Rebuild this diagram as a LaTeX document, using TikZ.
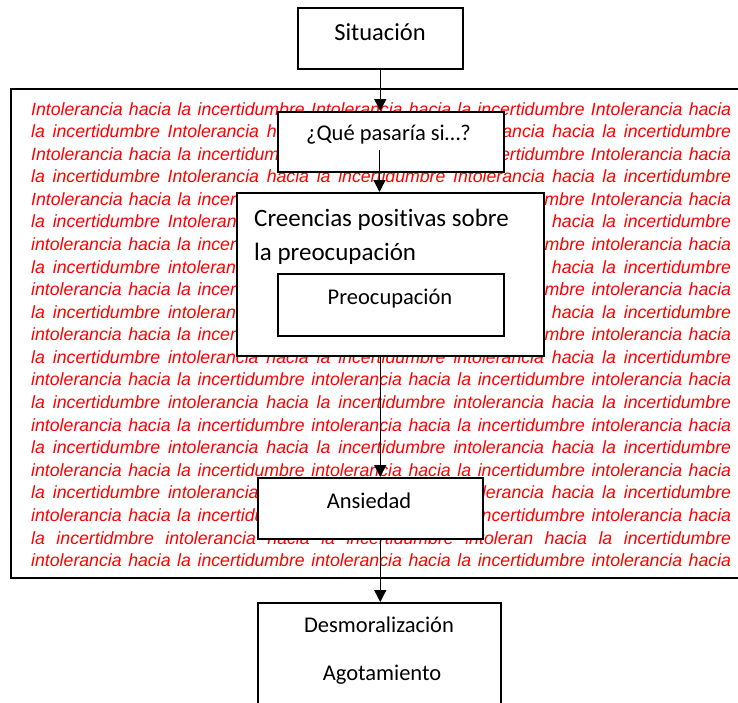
\documentclass[tikz,border=0pt]{standalone}
\usepackage{fontspec}
\newfontfamily\arialfont{Liberation Sans}
\newfontfamily\calfont{Carlito}[Ligatures={NoCommon}]
\usetikzlibrary{arrows.meta}
\definecolor{bgred}{RGB}{255,0,0}
\begin{document}
\begin{tikzpicture}[x=1pt,y=-1pt,
  box/.style={draw=black, line width=1.5pt, fill=white, inner sep=0pt, anchor=north west},
  lbl/.style={inner sep=0pt, anchor=base, font=\calfont\fontsize{22.5}{27}\selectfont},
  bgline/.style={inner sep=0pt, anchor=base west, text=bgred,
    font=\arialfont\itshape\fontsize{17.7}{22.58}\selectfont},
  frame/.style={draw=black, line width=1.5pt},
  flow/.style={line width=1.4pt, -{Triangle[length=12pt,width=12pt]}}]
\useasboundingbox (0,0) rectangle (738,702);
\clip (0,0) rectangle (738,702);

% justified background text
\foreach \t [count=\i] in {
  Intolerancia hacia la incertidumbre Intolerancia hacia la incertidumbre Intolerancia hacia,
  la incertidumbre Intolerancia hacia la incertidumbre Intolerancia hacia la incertidumbre,
  Intolerancia hacia la incertidumbre Intolerancia hacia la incertidumbre Intolerancia hacia,
  la incertidumbre Intolerancia hacia la incertidumbre Intolerancia hacia la incertidumbre,
  Intolerancia hacia la incertidumbre Intolerancia hacia la incertidumbre Intolerancia hacia,
  la incertidumbre Intolerancia hacia la incertidumbre intolerancia hacia la incertidumbre,
  intolerancia hacia la incertidumbre intolerancia hacia la incertidumbre intolerancia hacia,
  la incertidumbre intolerancia hacia la incertidumbre intolerancia hacia la incertidumbre,
  intolerancia hacia la incertidumbre intolerancia hacia la incertidumbre intolerancia hacia,
  la incertidumbre intolerancia hacia la incertidumbre intolerancia hacia la incertidumbre,
  intolerancia hacia la incertidumbre intolerancia hacia la incertidumbre intolerancia hacia,
  la incertidumbre intolerancia hacia la incertidumbre intolerancia hacia la incertidumbre,
  intolerancia hacia la incertidumbre intolerancia hacia la incertidumbre intolerancia hacia,
  la incertidumbre intolerancia hacia la incertidumbre intolerancia hacia la incertidumbre,
  intolerancia hacia la incertidumbre intolerancia hacia la incertidumbre intolerancia hacia,
  la incertidumbre intolerancia hacia la incertidumbre intolerancia hacia la incertidumbre,
  intolerancia hacia la incertidumbre intolerancia hacia la incertidumbre intolerancia hacia,
  la incertidumbre intolerancia hacia la incertidumbre intolerancia hacia la incertidumbre,
  intolerancia hacia la incertidumbre intolerancia hacia la incertidumbre intolerancia hacia,
  la incertidmbre intolerancia hacia la incertidumbre intoleran hacia la incertidumbre,
  intolerancia hacia la incertidumbre intolerancia hacia la incertidumbre intolerancia hacia}
  \node[bgline] (bg\i) at (31,{115+(\i-1)*22.58}) {\makebox[700pt][s]{\t}};

% outer frame around the background text
\draw[frame] (11,89) rectangle (739,578);

% boxes
\node[box, minimum width=165pt, minimum height=61pt] (sit) at (297,7) {};
\node[box, minimum width=226pt, minimum height=60pt] (que) at (277,111) {};
\node[box, minimum width=307pt, minimum height=163pt] (cre) at (236,192) {};
\node[box, minimum width=226pt, minimum height=62pt] (pre) at (277,273) {};
\node[box, minimum width=225pt, minimum height=61pt] (ans) at (257,477) {};
\node[box, minimum width=243pt, minimum height=120pt] (des) at (257,602) {};

% box texts
\node[lbl, font=\calfont\fontsize{24.5}{29}\selectfont] (sit-t) at (380,40.5) {Situación};
\node[lbl] (que-t) at (388.5,140.5) {¿Qué pasaría si…?};
\node[lbl, anchor=base west, font=\calfont\fontsize{25}{30}\selectfont] (cre-t1) at (254,226.5) {Creencias positivas sobre};
\node[lbl, anchor=base west, font=\calfont\fontsize{25}{30}\selectfont] (cre-t2) at (254,260.5) {la preocupación};
\node[lbl] (pre-t) at (390,304) {Preocupación};
\node[lbl] (ans-t) at (369,508) {Ansiedad};
\node[lbl] (des-t1) at (379,632) {Desmoralización};
\node[lbl] (des-t2) at (382,680.5) {Agotamiento};

% connectors
\coordinate (q-out) at (379.5,150);
\draw[flow] (sit.south) -- (sit.south |- que.north);
\draw[flow] (q-out) -- (q-out |- cre.north);
\draw[flow] (sit.south |- cre.south) -- (sit.south |- ans.north);
\draw[flow] (sit.south |- ans.south) -- (sit.south |- des.north);
\end{tikzpicture}
\end{document}
